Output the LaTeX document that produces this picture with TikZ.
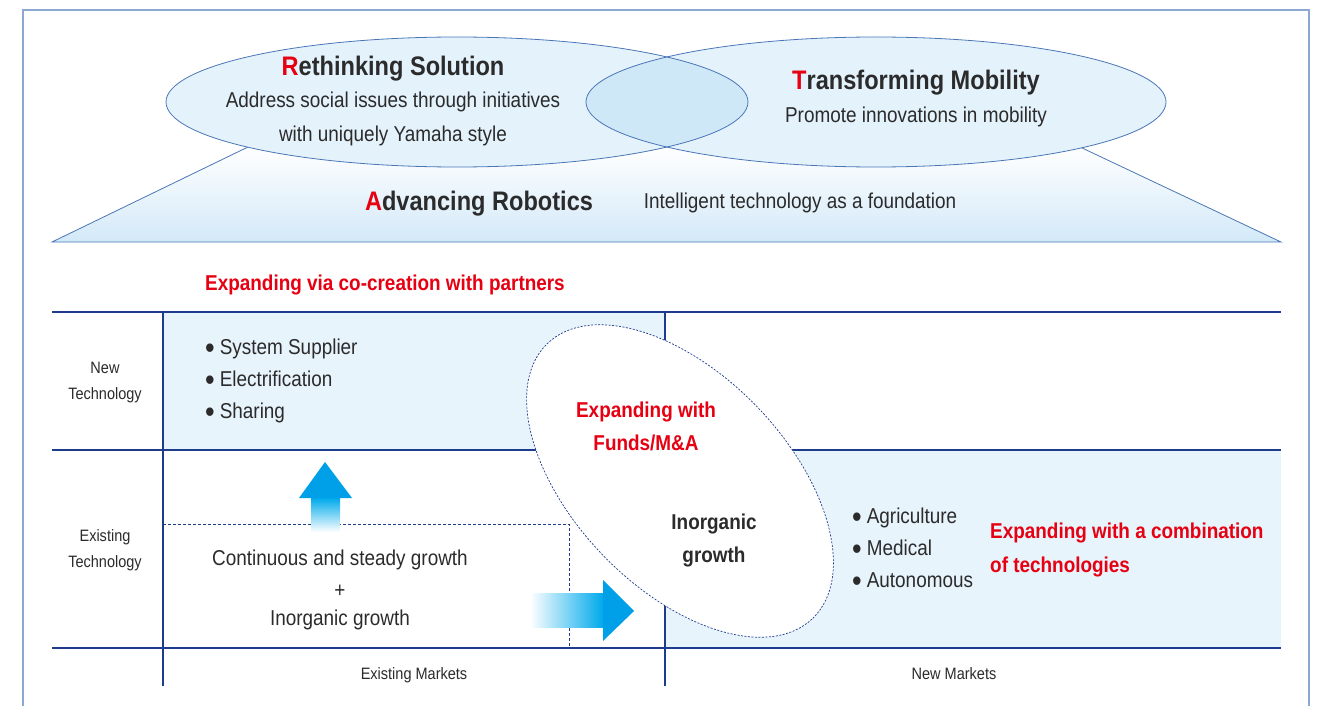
\documentclass[tikz,border=0pt]{standalone}
\usepackage{fontspec}
\setmainfont{Liberation Sans}[FakeStretch=0.88]
\usetikzlibrary{shapes.geometric}

\definecolor{frameblue}{HTML}{8EA8D4}
\definecolor{lineblue}{HTML}{4A76B6}
\definecolor{navy}{HTML}{1E3C8C}
\definecolor{paleblue}{HTML}{E8F4FC}
\definecolor{ovalblue}{HTML}{E4F2FC}
\definecolor{overlapblue}{HTML}{CEE8F8}
\definecolor{baseblue}{HTML}{D3E9F8}
\definecolor{arrowblue}{HTML}{00A0E9}
\definecolor{yred}{HTML}{E60012}
\definecolor{ink}{HTML}{2B2B2B}

\newcommand{\initial}[1]{\textcolor{yred}{#1}}
\newcommand{\bul}{\raisebox{-0.2em}{\scalebox{1.45}{\textbullet}}\hspace{5pt}}

\tikzset{
  title/.style={anchor=base,inner sep=0pt,text=ink,font=\fontsize{26.8}{30}\selectfont\bfseries},
  body/.style={anchor=base,inner sep=0pt,text=ink,font=\fontsize{21.5}{26}\selectfont},
  redhead/.style={anchor=base,inner sep=0pt,text=yred,font=\fontsize{21.5}{26}\selectfont\bfseries},
  axislabel/.style={anchor=base,inner sep=0pt,text=ink,font=\fontsize{16.5}{20}\selectfont},
  grid/.style={navy,line width=1.1pt},
  dashline/.style={navy,line width=0.8pt,dash pattern=on 3pt off 2pt},
}

\begin{document}
\begin{tikzpicture}[x=1pt,y=-1pt]
\useasboundingbox (0,0) rectangle (1321,706);

% outer frame, open at the bottom
\draw[frameblue,line width=1.2pt] (23,706) -- (23,10) -- (1309,10) -- (1309,706);

% base of the pyramid
\shade[top color=white,bottom color=baseblue] (248,147) -- (1080,147) -- (1281,242) -- (52,242) -- cycle;
\draw[lineblue,line width=0.8pt] (248,147) -- (52,242) -- (1281,242) -- (1080,147);

% the two pillars
\def\leftoval{(457,102) ellipse (291pt and 65pt)}
\def\rightoval{(876,102) ellipse (290pt and 65pt)}
\fill[ovalblue] \leftoval;
\fill[ovalblue] \rightoval;
\begin{scope}
  \clip \leftoval;
  \fill[overlapblue] \rightoval;
\end{scope}
\draw[lineblue,line width=0.8pt] \leftoval;
\draw[lineblue,line width=0.8pt] \rightoval;

\node[title] (rethink) at (393,76) {\initial{R}ethinking Solution};
\node[body] (rethinka) at (393,108) {Address social issues through initiatives};
\node[body] (rethinkb) at (393,141) {with uniquely Yamaha style};
\node[title] (mobility) at (916,90) {\initial{T}ransforming Mobility};
\node[body] (mobilitya) at (916,122) {Promote innovations in mobility};
\node[title] (robotics) at (479,210) {\initial{A}dvancing Robotics};
\node[body] (roboticsa) at (800,208) {Intelligent technology as a foundation};

% growth matrix
\fill[paleblue] (163,312) rectangle (665,450);
\fill[paleblue] (665,450) rectangle (1281,648);
\draw[grid] (52,312) -- (1281,312);
\draw[grid] (52,450) -- (1281,450);
\draw[grid] (52,648) -- (1281,648);
\draw[grid] (163,312) -- (163,686);
\draw[grid] (665,312) -- (665,686);
\draw[dashline] (163,524) -- (569,524) -- (569,648);

\node[redhead,anchor=base west] (cocreate) at (205,290) {Expanding via co-creation with partners};

\node[axislabel] (newtech) at (105,373) {New};
\node[axislabel] (newtechb) at (105,399) {Technology};
\node[axislabel] (oldtech) at (105,541) {Existing};
\node[axislabel] (oldtechb) at (105,567) {Technology};
\node[axislabel] (oldmkt) at (414,679) {Existing Markets};
\node[axislabel] (newmkt) at (954,679) {New Markets};

\node[body,anchor=base west] (supplier) at (205,354) {\bul System Supplier};
\node[body,anchor=base west] (electric) at (205,386) {\bul Electrification};
\node[body,anchor=base west] (sharing) at (205,418) {\bul Sharing};

\node[body] (steady) at (340,565) {Continuous and steady growth};
\node[body] (plus) at (340,597) {+};
\node[body] (inorg) at (340,625) {Inorganic growth};

% growth arrows
\shade[top color=arrowblue!90!cyan,bottom color=white] (311,498) rectangle (340,532);
\fill[arrowblue] (299,498) -- (325,462) -- (352,498) -- cycle;
\shade[left color=white,right color=arrowblue!90!cyan] (530,593) rectangle (603,627);
\fill[arrowblue] (603,580) -- (634,611) -- (603,641) -- cycle;

% M&A oval
\node[draw=navy,fill=white,ellipse,line width=0.7pt,dash pattern=on 2pt off 1.5pt,
  minimum width=382pt,minimum height=214pt,inner sep=0pt,rotate=-46] (funds) at (680,481) {};
\node[redhead] (fundsa) at (646,417) {Expanding with};
\node[redhead] (fundsb) at (646,450) {Funds/M\&A};
\node[body,font=\fontsize{21.5}{26}\selectfont\bfseries] (ingrowth) at (714,529) {Inorganic};
\node[body,font=\fontsize{21.5}{26}\selectfont\bfseries] (ingrowthb) at (714,562) {growth};

\node[body,anchor=base west] (agri) at (852,523) {\bul Agriculture};
\node[body,anchor=base west] (medical) at (852,555) {\bul Medical};
\node[body,anchor=base west] (auto) at (852,587) {\bul Autonomous};
\node[redhead,anchor=base west] (combine) at (990,538) {Expanding with a combination};
\node[redhead,anchor=base west] (combineb) at (990,572) {of technologies};

\end{tikzpicture}
\end{document}
